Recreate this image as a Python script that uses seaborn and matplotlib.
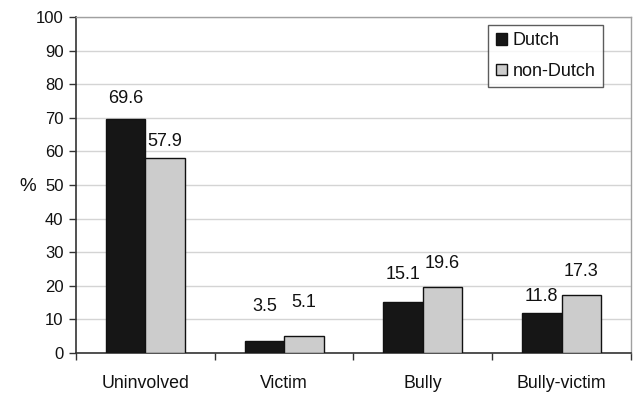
import matplotlib
matplotlib.use("Agg")
import matplotlib.pyplot as plt
import seaborn as sns
import pandas as pd
import numpy as np

categories = ["Uninvolved", "Victim", "Bully", "Bully-victim"]
groups = ["Dutch", "non-Dutch"]
dutch = [69.6, 3.5, 15.1, 11.8]
non_dutch = [57.9, 5.1, 19.6, 17.3]
yticks = list(range(0, 101, 10))

# label offsets above bar tops (data units), as drawn in the original
dutch_label_off = [6.1, 10.2, 8.4, 5.0]
nondutch_label_off = [5.0, 9.8, 7.0, 7.1]

df = pd.DataFrame({
    "category": categories * 2,
    "group": [groups[0]] * 4 + [groups[1]] * 4,
    "value": dutch + non_dutch,
})

sns.set_theme(style="white")
plt.rcParams["font.family"] = ["Liberation Sans", "DejaVu Sans"]

fig = plt.figure(figsize=(6.33, 3.93), dpi=100)
ax = fig.add_axes([0.1201, 0.1018, 0.8767, 0.8549])

sns.barplot(data=df, x="category", y="value", hue="group", order=categories,
            hue_order=groups, palette=["#161616", "#cccccc"], width=0.57,
            gap=0, edgecolor="#111111", linewidth=1.0, saturation=1,
            legend=True, ax=ax, zorder=3)

ax.set_xlim(-0.5, 3.5)
ax.set_ylim(0, 100)
ax.set_yticks(yticks)
ax.set_yticklabels([str(t) for t in yticks], fontsize=12, color="#111111")
ax.yaxis.grid(True, color="#d4d4d4", linewidth=1.0, zorder=0)
ax.set_axisbelow(True)

ax.set_xticks(range(len(categories)))
ax.set_xticklabels(categories, fontsize=12.8, color="#111111")
ax.set_xticks(np.arange(-0.5, 4.0, 1.0), minor=True)
ax.tick_params(axis="x", which="major", length=0, pad=15.5)
ax.tick_params(axis="x", which="minor", length=5, width=1, color="#333333", direction="out", bottom=True)
ax.tick_params(axis="y", length=5, width=1, color="#333333", direction="out", left=True, pad=4)

ax.set_xlabel("")
ax.set_ylabel("%", rotation=0, fontsize=13.5, color="#111111", va="center", ha="center")
ax.yaxis.set_label_coords(-0.088, 0.497)

for side in ["left", "bottom"]:
    ax.spines[side].set_color("#333333")
    ax.spines[side].set_linewidth(1.2)
for side in ["top", "right"]:
    ax.spines[side].set_color("#a0a0a0")
    ax.spines[side].set_linewidth(1.0)
    ax.spines[side].set_visible(True)

for cont, vals, offs in zip(ax.containers, [dutch, non_dutch], [dutch_label_off, nondutch_label_off]):
    for bar, v, o in zip(cont, vals, offs):
        ax.text(bar.get_x() + bar.get_width() / 2, v + o, f"{v:.1f}",
                ha="center", va="center", fontsize=13, color="#111111")

handles, labels = ax.get_legend_handles_labels()
leg = ax.legend(handles, labels, loc="upper right", bbox_to_anchor=(0.9495, 0.976),
                borderaxespad=0, fontsize=13, frameon=True, fancybox=False,
                edgecolor="#333333", handlelength=0.6, handleheight=0.6,
                handletextpad=0.35, labelspacing=0.75, borderpad=0.4)
leg.get_frame().set_linewidth(1.0)
for t in leg.get_texts():
    t.set_color("#111111")

fig.savefig("out.png", dpi=100)
